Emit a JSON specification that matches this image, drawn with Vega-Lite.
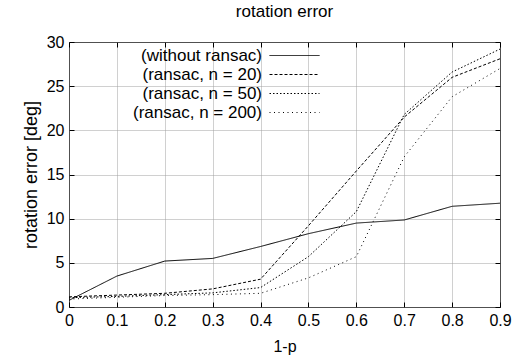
{
  "$schema": "https://vega.github.io/schema/vega-lite/v6.json",
  "width": 431,
  "height": 265,
  "autosize": {"type": "none"},
  "padding": {"left": 69, "top": 42, "right": 16, "bottom": 54},
  "background": "white",
  "title": {"text": "rotation error", "fontSize": 17, "fontWeight": "normal", "font": "Liberation Sans", "offset": 13, "color": "black"},
  "config": {
    "font": "Liberation Sans",
    "view": {"stroke": "black", "strokeWidth": 1},
    "axis": {
      "domain": false,
      "labelFont": "Liberation Sans",
      "labelFontSize": 16,
      "labelColor": "black",
      "titleFont": "Liberation Sans",
      "titleFontSize": 16,
      "titleFontWeight": "normal",
      "titleColor": "black",
      "tickColor": "black",
      "tickSize": -5,
      "gridColor": "#a0a0a0",
      "gridDash": [1, 1],
      "gridWidth": 1
    }
  },
  "data": {
    "values": [
      {"x": 0.0, "y": 0.75, "s": "(without ransac)"},
      {"x": 0.1, "y": 3.5, "s": "(without ransac)"},
      {"x": 0.2, "y": 5.2, "s": "(without ransac)"},
      {"x": 0.3, "y": 5.5, "s": "(without ransac)"},
      {"x": 0.4, "y": 6.85, "s": "(without ransac)"},
      {"x": 0.5, "y": 8.3, "s": "(without ransac)"},
      {"x": 0.6, "y": 9.5, "s": "(without ransac)"},
      {"x": 0.7, "y": 9.85, "s": "(without ransac)"},
      {"x": 0.8, "y": 11.4, "s": "(without ransac)"},
      {"x": 0.9, "y": 11.75, "s": "(without ransac)"},
      {"x": 0.0, "y": 1.15, "s": "(ransac, n = 20)"},
      {"x": 0.1, "y": 1.35, "s": "(ransac, n = 20)"},
      {"x": 0.2, "y": 1.55, "s": "(ransac, n = 20)"},
      {"x": 0.3, "y": 2.05, "s": "(ransac, n = 20)"},
      {"x": 0.4, "y": 3.15, "s": "(ransac, n = 20)"},
      {"x": 0.5, "y": 9.2, "s": "(ransac, n = 20)"},
      {"x": 0.6, "y": 15.4, "s": "(ransac, n = 20)"},
      {"x": 0.7, "y": 21.5, "s": "(ransac, n = 20)"},
      {"x": 0.8, "y": 26.0, "s": "(ransac, n = 20)"},
      {"x": 0.9, "y": 28.1, "s": "(ransac, n = 20)"},
      {"x": 0.0, "y": 1.05, "s": "(ransac, n = 50)"},
      {"x": 0.1, "y": 1.2, "s": "(ransac, n = 50)"},
      {"x": 0.2, "y": 1.4, "s": "(ransac, n = 50)"},
      {"x": 0.3, "y": 1.6, "s": "(ransac, n = 50)"},
      {"x": 0.4, "y": 2.2, "s": "(ransac, n = 50)"},
      {"x": 0.5, "y": 5.7, "s": "(ransac, n = 50)"},
      {"x": 0.6, "y": 10.8, "s": "(ransac, n = 50)"},
      {"x": 0.7, "y": 21.8, "s": "(ransac, n = 50)"},
      {"x": 0.8, "y": 26.6, "s": "(ransac, n = 50)"},
      {"x": 0.9, "y": 29.2, "s": "(ransac, n = 50)"},
      {"x": 0.0, "y": 0.9, "s": "(ransac, n = 200)"},
      {"x": 0.1, "y": 1.1, "s": "(ransac, n = 200)"},
      {"x": 0.2, "y": 1.3, "s": "(ransac, n = 200)"},
      {"x": 0.3, "y": 1.4, "s": "(ransac, n = 200)"},
      {"x": 0.4, "y": 1.55, "s": "(ransac, n = 200)"},
      {"x": 0.5, "y": 3.3, "s": "(ransac, n = 200)"},
      {"x": 0.6, "y": 5.7, "s": "(ransac, n = 200)"},
      {"x": 0.7, "y": 17.0, "s": "(ransac, n = 200)"},
      {"x": 0.8, "y": 23.8, "s": "(ransac, n = 200)"},
      {"x": 0.9, "y": 27.0, "s": "(ransac, n = 200)"}
    ]
  },
  "layer": [
    {
      "mark": {"type": "line", "color": "black", "strokeWidth": 1},
      "encoding": {
        "x": {"field": "x", "type": "quantitative", "scale": {"domain": [0, 0.9], "nice": false},
              "axis": {"title": "1-p", "values": [0, 0.1, 0.2, 0.3, 0.4, 0.5, 0.6, 0.7, 0.8, 0.9], "format": "~g", "labelPadding": 10, "titlePadding": 10, "labelFlush": false}},
        "y": {"field": "y", "type": "quantitative", "scale": {"domain": [0, 30], "nice": false},
              "axis": {"title": "rotation error [deg]", "titleFontSize": 18, "values": [0, 5, 10, 15, 20, 25, 30], "labelPadding": 10, "titlePadding": 6, "labelFlush": false}},
        "strokeDash": {"field": "s", "type": "nominal",
          "scale": {"domain": ["(without ransac)", "(ransac, n = 20)", "(ransac, n = 50)", "(ransac, n = 200)"],
                    "range": [[1, 0], [3, 2], [1.5, 2], [1, 3.5]]},
          "legend": {"title": null, "orient": "none", "legendX": 217, "legendY": 5,
                     "symbolType": "M-6.25,0H6.25", "symbolSize": 64, "symbolStrokeColor": "black", "symbolStrokeWidth": 1,
                     "labelAlign": "right", "labelOffset": -41, "labelFontSize": 17, "labelFont": "Liberation Sans", "labelColor": "black",
                     "rowPadding": 1, "labelLimit": 300}
        },
        "detail": {"field": "s"}
      }
    },
    {
      "mark": {"type": "line", "opacity": 0},
      "encoding": {
        "x": {"field": "x", "type": "quantitative", "scale": {"domain": [0, 0.9], "nice": false},
              "axis": {"orient": "top", "title": null, "labels": false, "grid": false, "values": [0, 0.1, 0.2, 0.3, 0.4, 0.5, 0.6, 0.7, 0.8, 0.9]}},
        "y": {"field": "y", "type": "quantitative", "scale": {"domain": [0, 30], "nice": false},
              "axis": {"orient": "right", "title": null, "labels": false, "grid": false, "values": [0, 5, 10, 15, 20, 25, 30]}},
        "detail": {"field": "s"}
      }
    }
  ],
  "resolve": {"axis": {"x": "independent", "y": "independent"}}
}
